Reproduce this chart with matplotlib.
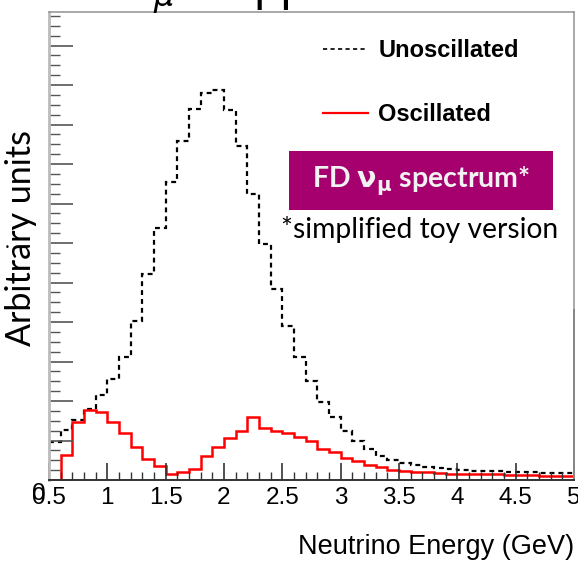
import numpy as np
import matplotlib
matplotlib.use("Agg")
import matplotlib.pyplot as plt
from matplotlib.lines import Line2D
from matplotlib.patches import Rectangle
from matplotlib.ticker import MultipleLocator

# bin edges (GeV), 0.1 GeV bins from 0.5 to 5.0
edges = np.linspace(0.5, 5.0, 46)

unoscillated = [0.97, 1.27, 1.52, 1.81, 2.15, 2.55, 3.11, 4.03, 5.22, 6.38,
                7.54, 8.59, 9.40, 9.80, 9.88, 9.36, 8.46, 7.23, 5.97, 4.83,
                3.90, 3.11, 2.51, 1.98, 1.59, 1.24, 0.98, 0.78, 0.60, 0.51,
                0.42, 0.39, 0.34, 0.31, 0.27, 0.25, 0.24, 0.22, 0.22, 0.21,
                0.20, 0.19, 0.18, 0.17, 0.17]
oscillated = [0.00, 0.63, 1.46, 1.76, 1.73, 1.46, 1.19, 0.83, 0.52, 0.35,
              0.16, 0.20, 0.29, 0.62, 0.84, 1.07, 1.24, 1.60, 1.31, 1.25,
              1.20, 1.10, 0.99, 0.78, 0.71, 0.55, 0.48, 0.39, 0.33, 0.26,
              0.23, 0.20, 0.19, 0.17, 0.16, 0.15, 0.15, 0.14, 0.14, 0.13,
              0.13, 0.12, 0.11, 0.11, 0.10]

xticks = [0.5, 1, 1.5, 2, 2.5, 3, 3.5, 4, 4.5, 5]
xticklabels = ["0.5", "1", "1.5", "2", "2.5", "3", "3.5", "4", "4.5", "5"]

W, H = 578, 562
fig = plt.figure(figsize=(W / 100, H / 100), dpi=100)
ax = fig.add_axes([49 / W, 1 - 480 / H, (574 - 49) / W, (480 - 12) / H])

ax.stairs(unoscillated, edges, color="black", lw=1.6, linestyle=(0, (2.2, 1.8)),
          baseline=None)
ax.stairs(oscillated, edges, color="red", lw=1.8, baseline=None)

ax.set_xlim(0.5, 5.0)
ax.set_ylim(0, 11.85)
ax.set_xticks(xticks)
ax.set_xticklabels(xticklabels, family="Liberation Sans", fontsize=17.5)
ax.xaxis.set_minor_locator(MultipleLocator(0.1))
ax.yaxis.set_major_locator(MultipleLocator(1))
ax.yaxis.set_minor_locator(MultipleLocator(0.25))
ax.tick_params(axis="x", which="major", direction="in", length=12, width=1.2,
               color="#333333", pad=5)
ax.tick_params(axis="x", which="minor", direction="in", length=6, width=1.0,
               color="#333333")
ax.tick_params(axis="y", which="major", direction="in", length=17, width=1.2,
               color="#555555", labelleft=False)
ax.tick_params(axis="y", which="minor", direction="in", length=8, width=1.0,
               color="#555555")
for side in ["top", "left", "right"]:
    ax.spines[side].set_color("#999999")
    ax.spines[side].set_linewidth(1.2)
ax.spines["left"].set_linewidth(2.0)
ax.spines["left"].set_color("#bbbbbb")
ax.spines["bottom"].set_color("#333333")
ax.spines["bottom"].set_linewidth(1.4)
ax.axvline(5.0, ymin=0, ymax=0.363, color="#333333", lw=1.4, clip_on=False)

ax.set_xlabel("Neutrino Energy (GeV)", family="Liberation Sans", fontsize=19.5)
ax.xaxis.set_label_coords(1.0, -0.115)
ax.xaxis.label.set_horizontalalignment("right")

fig.text(21 / W, 1 - 238 / H, "Arbitrary units", family="Lato", fontsize=24.5,
         rotation=90, ha="center", va="center")
fig.text(7 / W, 1 - 247 / H, "\u2022", fontsize=6, ha="center", va="center")
fig.text(39 / W, 1 - 494 / H, "0", family="Liberation Sans", fontsize=17.5,
         ha="center", va="center")

# legend
handles = [Line2D([], [], color="black", lw=1.2, linestyle=(0, (2.5, 2))),
           Line2D([], [], color="red", lw=1.6)]
leg = ax.legend(handles, ["Unoscillated", "Oscillated"], loc="upper left",
                bbox_to_anchor=(311 / W, 1 - 27 / H),
                bbox_transform=fig.transFigure, frameon=False, borderpad=0,
                handlelength=1.9, handletextpad=0.45, labelspacing=1.75,
                prop={"family": "Liberation Sans", "weight": "bold", "size": 17})

# label box
fig.patches.append(Rectangle((289 / W, 1 - 210 / H), (553 - 289) / W, 59 / H,
                             transform=fig.transFigure, facecolor="#a6006e",
                             edgecolor="none"))
fig.text(421 / W, 1 - 181 / H, r"FD $\mathbf{\nu_{\mu}}$ spectrum*",
         family="Lato", weight="bold", fontsize=20.5, color="#f2f2f2",
         ha="center", va="center")
fig.text(420 / W, 1 - 229 / H, "*simplified toy version", family="Lato",
         fontsize=20.3, ha="center", va="center")

# cropped title at the very top
fig.text(128 / W, 1.0, r"$\nu_{\mu}$", fontsize=33, ha="left", va="baseline")
fig.text(168 / W, 1.0, "disappearance", family="Liberation Sans",
         fontsize=34, ha="left", va="baseline")

fig.savefig("out.png", dpi=100)
